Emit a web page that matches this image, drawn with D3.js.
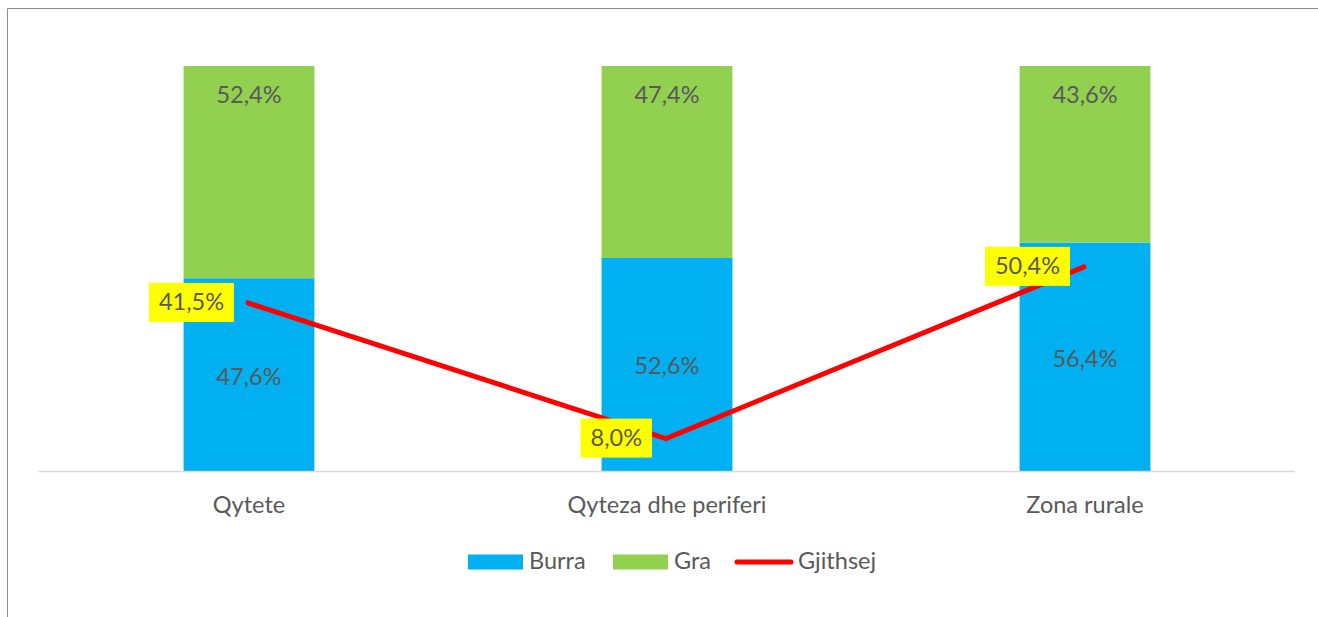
<!DOCTYPE html>
<html>
<head>
<meta charset="utf-8">
<script src="https://cdn.jsdelivr.net/npm/d3@7"></script>
<style>
  body { margin: 0; background: #fff; }
  text { font-family: Lato, "Open Sans", sans-serif; fill: #595959; }
</style>
</head>
<body>
<script>
// data
const categories = ["Qytete", "Qyteza dhe periferi", "Zona rurale"];
const burra = [47.6, 52.6, 56.4];
const gra = [52.4, 47.4, 43.6];
const gjithsej = [41.5, 8.0, 50.4];
const seriesNames = ["Burra", "Gra", "Gjithsej"];

const fmt = v => v.toFixed(1).replace(".", ",") + "%";
const fs = "23.5px";

const width = 1318, height = 617;
const svg = d3.select("body").append("svg")
    .attr("width", width)
    .attr("height", height);

// outer frame (cut at right/bottom like the source)
svg.append("path")
    .attr("d", "M7.5,617 V8.5 H1318")
    .attr("fill", "none")
    .attr("stroke", "#8c8c8c")
    .attr("stroke-width", 1);

const x = d3.scaleBand()
    .domain(categories)
    .range([40, 1294])
    .paddingInner(0.687)
    .paddingOuter(0.3435);

const y = d3.scaleLinear()
    .domain([0, 100])
    .range([471, 66]);

const rows = categories.map((c, i) => ({ cat: c, Burra: burra[i], Gra: gra[i], total: gjithsej[i] }));
const stack = d3.stack().keys(["Burra", "Gra"])(rows);
const colors = { Burra: "#00b0f0", Gra: "#92d050" };

// bars
svg.append("g").selectAll("g")
    .data(stack)
    .join("g")
    .attr("fill", d => colors[d.key])
    .selectAll("rect")
    .data(d => d)
    .join("rect")
    .attr("x", d => x(d.data.cat))
    .attr("y", d => y(d[1]))
    .attr("width", x.bandwidth())
    .attr("height", d => y(d[0]) - y(d[1]));

// axis line
svg.append("line")
    .attr("x1", 38).attr("x2", 1295)
    .attr("y1", y(0) + 0.5).attr("y2", y(0) + 0.5)
    .attr("stroke", "#d9d9d9")
    .attr("stroke-width", 1.5);

// bar labels
stack.forEach(s => {
    svg.append("g").selectAll("text")
        .data(s)
        .join("text")
        .attr("x", d => x(d.data.cat) + x.bandwidth() / 2)
        .attr("y", d => s.key === "Gra" ? y(d[1]) + 31 : (y(d[0]) + y(d[1])) / 2 + 4)
        .attr("text-anchor", "middle")
        .attr("dominant-baseline", "middle")
        .style("font-size", fs)
        .text(d => fmt(d.data[s.key]));
});

// category labels
svg.append("g").selectAll("text")
    .data(categories)
    .join("text")
    .attr("x", d => x(d) + x.bandwidth() / 2)
    .attr("y", 507)
    .attr("text-anchor", "middle")
    .attr("dominant-baseline", "middle")
    .style("font-size", fs)
    .text(d => d);

// total line
const cx = d => x(d.cat) + x.bandwidth() / 2 - 1;
svg.append("path")
    .datum(rows)
    .attr("fill", "none")
    .attr("stroke", "#ff0000")
    .attr("stroke-width", 5)
    .attr("stroke-linecap", "round")
    .attr("stroke-linejoin", "miter")
    .attr("d", d3.line().x(cx).y(d => y(d.total)));

// total labels in yellow boxes, sized to the text
const lab = svg.append("g").selectAll("g")
    .data(rows)
    .join("g")
    .attr("transform", d => `translate(${cx(d) - 14},${y(d.total)})`);
const box = lab.append("rect")
    .attr("y", -20)
    .attr("height", 39)
    .attr("fill", "#ffff00");
const lt = lab.append("text")
    .attr("x", -10).attr("y", 1)
    .attr("text-anchor", "end")
    .attr("dominant-baseline", "middle")
    .style("font-size", fs)
    .text(d => fmt(d.total));
lt.each(function (d, i) {
    const w = this.getComputedTextLength() + 20;
    d3.select(box.nodes()[i]).attr("x", -w).attr("width", w);
});

// legend
const legend = svg.append("g").attr("transform", "translate(468,562)");
const legX = [0, 145, 267];
seriesNames.forEach((name, i) => {
    const g = legend.append("g").attr("transform", `translate(${legX[i]},0)`);
    if (i < 2) {
        g.append("rect")
            .attr("x", 0).attr("y", -7.5)
            .attr("width", 55).attr("height", 15)
            .attr("fill", colors[name]);
    } else {
        g.append("line")
            .attr("x1", 2).attr("x2", 56)
            .attr("y1", 0).attr("y2", 0)
            .attr("stroke", "#ff0000")
            .attr("stroke-width", 5)
            .attr("stroke-linecap", "round");
    }
    g.append("text")
        .attr("x", i < 2 ? 61 : 63)
        .attr("y", 1)
        .attr("dominant-baseline", "middle")
        .style("font-size", fs)
        .text(name);
});
</script>
</body>
</html>
